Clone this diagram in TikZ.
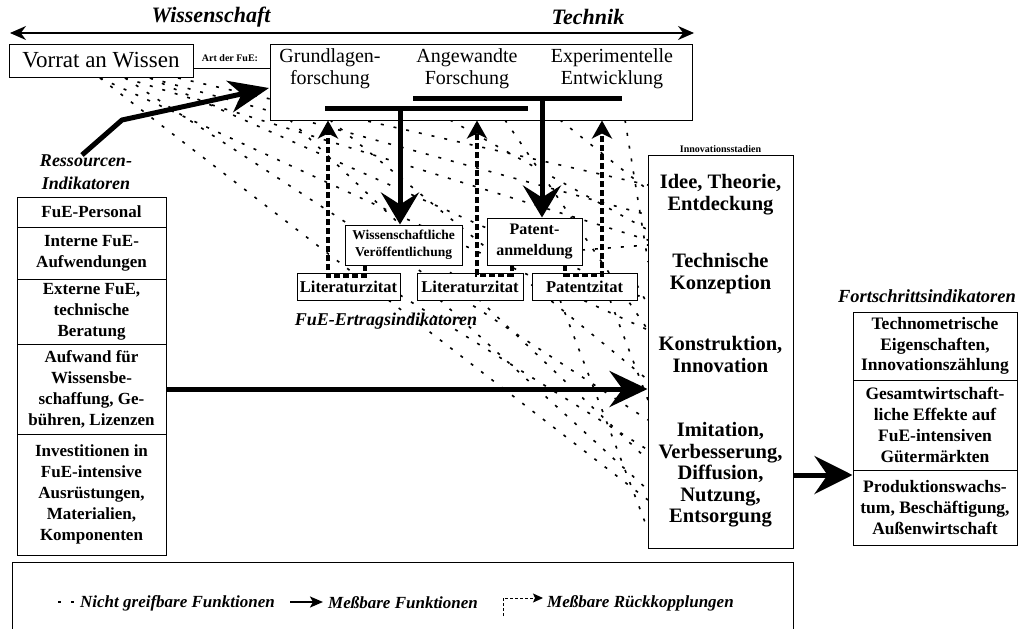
\documentclass[tikz,border=0pt]{standalone}
\usepackage{fontspec}
\setmainfont{Liberation Serif}
\usetikzlibrary{arrows.meta}
\newcommand\myfs[2]{\fontsize{#1}{#2}\selectfont}
\begin{document}
\begin{tikzpicture}[x=1pt,y=-1pt,
  bx/.style={draw,line width=1pt,fill=white,align=center,inner sep=0pt},
  plain/.style={align=center,inner sep=0pt},
  fan/.style={line width=1.6pt,dash pattern=on 3pt off 10pt},
  fb/.style={line width=3.4pt,dash pattern=on 6pt off 3pt,-{Stealth[length=18pt,width=20pt,inset=5pt]}},
  bigline/.style={line width=5pt},
  colfont/.style={font=\myfs{17}{21}\bfseries},
  stfont/.style={font=\myfs{20.5}{22}\bfseries},
  bi/.style={font=\myfs{19}{23}\bfseries\itshape,inner sep=0pt}]
\useasboundingbox[fill=white] (0,0) rectangle (1021,629);

% ---------- non-tangible functions (fan lines) ----------
\coordinate (V1) at (100,78); \coordinate (V2) at (125,78);
\coordinate (V3) at (150,78); \coordinate (V4) at (178,78);
\coordinate (T1) at (290,120); \coordinate (T2) at (330,120);
\coordinate (T3) at (450,120); \coordinate (T4) at (505,120);
\coordinate (T5) at (560,120); \coordinate (T6) at (625,120);
\coordinate (E1) at (400,295); \coordinate (E2) at (440,300);
\coordinate (E3) at (560,300); \coordinate (E4) at (610,300);
\coordinate (E5) at (637,285); \coordinate (E6) at (582,250);
\foreach \s/\t in {V4/185,V3/215,V3/300,V2/240,V2/420,V1/330,V1/500,
  T1/460,T2/380,T3/230,T4/330,T5/190,T6/262,
  E1/450,E2/490,E3/530,E4/400,E5/305,E6/245}
  \draw[fan] (\s) -- (648,\t);

% ---------- top axis ----------
\coordinate (ta) at (10,33); \coordinate (tb) at (694,33);
\draw[line width=1.2pt,{Stealth[length=16pt,width=14pt]}-{Stealth[length=16pt,width=14pt]}] (ta) -- (tb);
\node[font=\myfs{22}{24}\bfseries\itshape] (wis) at (211,17) {Wissenschaft};
\node[font=\myfs{22}{24}\bfseries\itshape] (tec) at (588,17) {Technik};

% ---------- top boxes ----------
\node[bx,minimum width=184,minimum height=33,font=\myfs{23}{25}] (vorrat) at (101,60.5) {Vorrat an Wissen};
\node[bx,minimum width=422,minimum height=76] (top) at (481,82) {};
\draw[line width=1pt] (vorrat.east |- 0,68) -- (top.west |- 0,68);
\node[plain,font=\myfs{10}{12}\bfseries] (art) at (230,58) {Art der FuE:};
\node[plain,font=\myfs{20}{22}] (gl) at (330,69) {Grundlagen-\\forschung};
\node[plain,font=\myfs{20}{22}] (af) at (467,69) {Angewandte\\Forschung};
\node[plain,font=\myfs{20}{22}] (ee) at (612,69) {Experimentelle\\Entwicklung};
\coordinate (b1a) at (325,108); \coordinate (b1b) at (528,108);
\coordinate (b2a) at (413,98); \coordinate (b2b) at (622,98);
\draw[bigline] (b1a) -- (b1b);
\draw[bigline] (b2a) -- (b2b);

% ---------- output indicator boxes ----------
\node[bx,minimum width=117,minimum height=40,font=\myfs{13.5}{17}\bfseries] (wv) at (403.5,245) {Wissenschaftliche\\Veröffentlichung};
\node[bx,minimum width=95,minimum height=47,font=\myfs{16}{21}\bfseries] (pa) at (534.5,241.5) {Patent-\\anmeldung};
\node[bx,minimum width=103,minimum height=27,font=\myfs{16.5}{18}\bfseries] (lz1) at (348.5,286.5) {Literaturzitat};
\node[bx,minimum width=106,minimum height=27,font=\myfs{16.5}{18}\bfseries] (lz2) at (470,286.5) {Literaturzitat};
\node[bx,minimum width=105,minimum height=27,font=\myfs{16.5}{18}\bfseries] (pz) at (584.5,286.5) {Patentzitat};
\node[bi,font=\myfs{18}{22}\bfseries\itshape] (fer) at (386,321) {FuE-Ertragsindikatoren};

\coordinate (d1) at (400,108); \coordinate (d2) at (542,98);
\draw[bigline,-{Stealth[length=32pt,width=38pt,inset=12pt]}] (d1) -- (d1 |- wv.north);
\draw[bigline,-{Stealth[length=32pt,width=38pt,inset=12pt]}] (d2) -- (d2 |- pa.north);

% measurable feedbacks
\coordinate (f1s) at (365,265); \coordinate (f1m) at (365,276); \coordinate (f1c) at (328,276);
\coordinate (f2s) at (512,265); \coordinate (f2m) at (512,275); \coordinate (f2c) at (477,275);
\coordinate (f3s) at (565,265); \coordinate (f3m) at (565,275); \coordinate (f3c) at (602,275);
\draw[fb] (f1s) -- (f1m) -- (f1c) -- (f1c |- top.south);
\draw[fb] (f2s) -- (f2m) -- (f2c) -- (f2c |- top.south);
\draw[fb] (f3s) -- (f3m) -- (f3c) -- (f3c |- top.south);

% ---------- resource indicators ----------
\node[bi,align=center,font=\myfs{18}{23}\bfseries\itshape] (ri) at (86,172) {Ressourcen-\\Indikatoren};
\node[bx,colfont,minimum width=149,minimum height=30] (c1) at (91.5,212) {FuE-Personal};
\node[bx,colfont,minimum width=149,minimum height=52] (c2) at (91.5,253) {Interne FuE-\\Aufwendungen};
\node[bx,colfont,minimum width=149,minimum height=65] (c3) at (91.5,311.5) {Externe FuE,\\technische\\Beratung};
\node[bx,colfont,minimum width=149,minimum height=90] (c4) at (91.5,389) {Aufwand für\\Wissensbe-\\schaffung, Ge-\\bühren, Lizenzen};
\node[bx,colfont,minimum width=149,minimum height=121] (c5) at (91.5,494.5) {Investitionen in\\FuE-intensive\\Ausrüstungen,\\Materialien,\\Komponenten};

\coordinate (r0) at (82,155); \coordinate (r1) at (122,120); \coordinate (r2) at (269,88);
\draw[bigline,line join=round,-{Stealth[length=40pt,width=32pt,inset=12pt]}] (r0) -- (r1) -- (r2);

% ---------- innovation stages ----------
\node[bx,minimum width=145,minimum height=393] (stage) at (720.5,351.5) {};
\node[plain,font=\myfs{10}{12}\bfseries,anchor=south] (isl) at (720.5,153) {Innovationsstadien};
\node[plain,stfont] (s1) at (720.5,195) {Idee, Theorie,\\Entdeckung};
\node[plain,stfont] (s2) at (720.5,274) {Technische\\Konzeption};
\node[plain,stfont] (s3) at (720.5,354) {Konstruktion,\\Innovation};
\node[plain,font=\myfs{20.5}{21.5}\bfseries] (s4) at (720.5,475) {Imitation,\\Verbesserung,\\Diffusion,\\Nutzung,\\Entsorgung};

\draw[bigline,-{Stealth[length=38pt,width=36pt,inset=13pt]}] (c4.east) -- (stage.west |- c4.east);

% ---------- progress indicators ----------
\node[bi,font=\myfs{18.5}{22}\bfseries\itshape] (fi) at (927,296) {Fortschrittsindikatoren};
\node[bx,colfont,font=\myfs{17.5}{20.5}\bfseries,minimum width=164,minimum height=68] (p1) at (935,346) {Technometrische\\Eigenschaften,\\Innovationszählung};
\node[bx,colfont,font=\myfs{17.5}{21}\bfseries,minimum width=164,minimum height=90] (p2) at (935,425) {Gesamtwirtschaft-\\liche Effekte auf\\FuE-intensiven\\Gütermärkten};
\node[bx,colfont,font=\myfs{17.5}{21}\bfseries,minimum width=164,minimum height=75] (p3) at (935,507.5) {Produktionswachs-\\tum, Beschäftigung,\\Außenwirtschaft};

\coordinate (o1) at (794,475);
\draw[bigline,-{Stealth[length=38pt,width=38pt,inset=13pt]}] (o1) -- (o1 -| p3.west);

% ---------- legend ----------
\coordinate (lg1) at (12,640); \coordinate (lg2) at (12,562);
\coordinate (lg3) at (793,562); \coordinate (lg4) at (793,640);
\draw[line width=1pt] (lg1) -- (lg2) -- (lg3) -- (lg4);
\coordinate (l0a) at (58,602); \coordinate (l0b) at (78,602);
\draw[fan] (l0a) -- (l0b);
\node[bi,font=\myfs{17}{20}\bfseries\itshape,anchor=west] (lt1) at (80,603) {Nicht greifbare Funktionen};
\coordinate (l1a) at (290,602); \coordinate (l1b) at (323,602);
\draw[line width=2pt,-{Stealth[length=13pt,width=11pt,inset=3pt]}] (l1a) -- (l1b);
\node[bi,font=\myfs{17}{20}\bfseries\itshape,anchor=west] (lt2) at (328,603) {Meßbare Funktionen};
\coordinate (l2a) at (503,616); \coordinate (l2b) at (503,598); \coordinate (l2c) at (543,598);
\draw[line width=1pt,densely dashed,-{Stealth[length=10pt,width=9pt,inset=2pt]}] (l2a) -- (l2b) -- (l2c);
\node[bi,font=\myfs{17}{20}\bfseries\itshape,anchor=west] (lt3) at (547,603) {Meßbare Rückkopplungen};
\end{tikzpicture}
\end{document}
